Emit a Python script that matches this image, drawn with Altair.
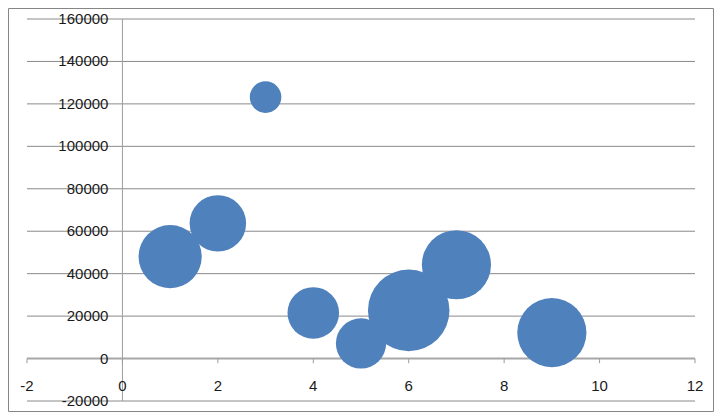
import altair as alt
import pandas as pd

# ---- data ----
bubble_x = [1, 2, 3, 4, 5, 6, 7, 9]
bubble_y = [48000, 63700, 123200, 21500, 7100, 22700, 44200, 12200]
bubble_size = [60, 48, 15, 40, 38, 100, 72, 72]
x_ticks = [-2, 0, 2, 4, 6, 8, 10, 12]
y_ticks = [-20000, 0, 20000, 40000, 60000, 80000, 100000, 120000, 140000, 160000]

# ---- layout ----
W, H = 668, 382
PL, PT, PR, PB = 19, 11, 19, 11
FONT = "Liberation Sans"
TXT = "#1a1a1a"

xs = alt.Scale(domain=[-2, 12], nice=False, zero=False)
ys = alt.Scale(domain=[-20000, 160000], nice=False, zero=False)

bubbles = pd.DataFrame({"x": bubble_x, "y": bubble_y, "s": bubble_size})
xt = pd.DataFrame({"x": x_ticks, "lab": [str(v) for v in x_ticks]})
yt = pd.DataFrame({"y": y_ticks, "lab": [str(v) for v in y_ticks]})
one = pd.DataFrame({"a": [0]})

frame = alt.Chart(one).mark_rect(fill="white", stroke="#868686", strokeWidth=1).encode(
    x=alt.value(-PL + 0.5), x2=alt.value(W + PR - 0.5),
    y=alt.value(-PT + 0.5), y2=alt.value(H + PB - 0.5),
)

grid = alt.Chart(yt).mark_rule(color="#8a8a8a", strokeWidth=1).encode(
    x=alt.X(datum=-2, type="quantitative", scale=xs, axis=None),
    x2=alt.X2(datum=12),
    y=alt.Y("y:Q", scale=ys, axis=None),
)

yaxis = alt.Chart(one).mark_rule(color="#9c9c9c", strokeWidth=1).encode(
    x=alt.X(datum=0, type="quantitative", scale=xs, axis=None),
    y=alt.Y(datum=-20000, type="quantitative", scale=ys, axis=None),
    y2=alt.Y2(datum=160000),
)

xaxis = alt.Chart(one).mark_rule(color="#a8a8a8", strokeWidth=2).encode(
    x=alt.X(datum=-2, type="quantitative", scale=xs, axis=None),
    x2=alt.X2(datum=12),
    y=alt.Y(datum=0, type="quantitative", scale=ys, axis=None),
)

xticks = alt.Chart(xt).mark_rule(color="#9c9c9c", strokeWidth=1).encode(
    x=alt.X("x:Q", scale=xs, axis=None),
    y=alt.Y(datum=0, type="quantitative", scale=ys, axis=None),
    y2=alt.Y2(datum=-2200),
)

dots = alt.Chart(bubbles).mark_circle(color="#4F81BD", opacity=1).encode(
    x=alt.X("x:Q", scale=xs, axis=None),
    y=alt.Y("y:Q", scale=ys, axis=None),
    size=alt.Size("s:Q", scale=alt.Scale(domain=[0, 100], range=[0, 6648]), legend=None),
)

ylabels = alt.Chart(yt).mark_text(
    align="right", baseline="middle", dx=-14, font=FONT, fontSize=15, color=TXT
).encode(
    x=alt.X(datum=0, type="quantitative", scale=xs, axis=None),
    y=alt.Y("y:Q", scale=ys, axis=None),
    text="lab:N",
)

xlabels = alt.Chart(xt).mark_text(
    align="center", baseline="middle", dy=27, font=FONT, fontSize=15, color=TXT
).encode(
    x=alt.X("x:Q", scale=xs, axis=None),
    y=alt.Y(datum=0, type="quantitative", scale=ys, axis=None),
    text="lab:N",
)

chart = alt.layer(frame, grid, yaxis, xaxis, xticks, dots, ylabels, xlabels).properties(
    width=W, height=H,
    padding={"left": PL, "top": PT, "right": PR, "bottom": PB},
    autosize=alt.AutoSizeParams(type="none"),
).configure_view(stroke=None)

chart.save("out.html", embed_options={"renderer": "svg", "actions": False})
